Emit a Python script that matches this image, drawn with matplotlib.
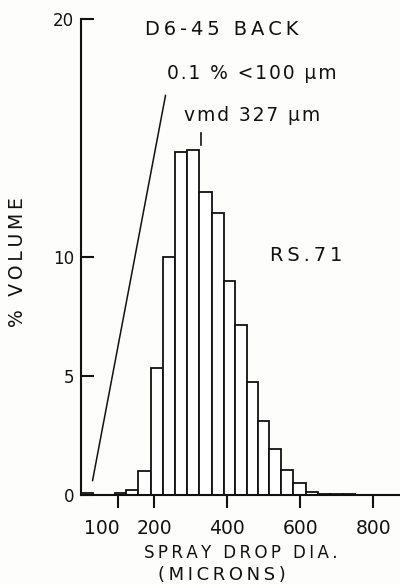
import matplotlib
matplotlib.use("Agg")
import matplotlib.pyplot as plt
from matplotlib.transforms import ScaledTranslation

# Drop-size distribution, D6-45 back nozzle
bin_edges = [92, 124, 156, 191, 223, 256, 289, 323, 358, 390, 422, 453,
             483, 515, 547, 581, 616, 648, 682, 716, 750]
pct_volume = [0.1, 0.2, 1.0, 5.35, 10.0, 14.4, 14.5, 12.75, 11.85, 9.0,
              7.15, 4.75, 3.1, 1.95, 1.05, 0.5, 0.12, 0.06, 0.05, 0.04]

# fraction below 100 um, drawn against the axis
fine_edges = [0, 33]
fine_pct = [0.1]

vmd = 327
x_ticks = [100, 200, 400, 600, 800]
y_ticks = [0, 5, 10, 20]

INK = "#111111"
BG = "#fdfdfb"
THIN = "\u2009"  # thin space used for letter tracking
HAIR = "\u200a"  # hair space, lighter tracking


def track(s, gap=THIN):
    return gap.join(s)


plt.rcParams["font.family"] = ["DejaVu Sans"]

fig = plt.figure(figsize=(4.0, 5.85), dpi=100, facecolor=BG)
ax = fig.add_axes([0.203, 0.1538, 0.797, 0.8137], facecolor=BG)

lefts = bin_edges[:-1]
widths = [b - a for a, b in zip(bin_edges[:-1], bin_edges[1:])]
ax.bar(lefts, pct_volume, width=widths, align="edge", facecolor="white",
       edgecolor=INK, linewidth=1.3, zorder=2)
ax.bar(fine_edges[0], fine_pct, width=fine_edges[1] - fine_edges[0],
       align="edge", facecolor="white", edgecolor=INK, linewidth=1.3, zorder=2)

ax.set_xlim(0, 873)
ax.set_ylim(0, 20)

for side in ("top", "right"):
    ax.spines[side].set_visible(False)
for side in ("left", "bottom"):
    ax.spines[side].set_linewidth(1.5)
    ax.spines[side].set_color(INK)
    ax.spines[side].set_zorder(3)

ax.set_xticks(x_ticks)
ax.set_xticklabels([str(v) for v in x_ticks])
ax.set_yticks(y_ticks)
ax.set_yticklabels([str(v) for v in y_ticks])
ax.tick_params(axis="x", direction="out", length=9.5, width=1.5, pad=8,
               labelsize=13.5, colors=INK)
ax.tick_params(axis="y", direction="in", length=9.5, width=1.5, pad=5,
               labelsize=12, colors=INK)

# nudge the "100" label left so it clears "200"
lbl = ax.get_xticklabels()[0]
lbl.set_transform(lbl.get_transform() +
                  ScaledTranslation(-0.16, 0, fig.dpi_scale_trans))

# volume median diameter marker
ax.plot([vmd, vmd], [14.7, 15.2], color=INK, lw=1.2)

# leader from the fine fraction
ax.annotate("", xy=(31, 0.6), xytext=(231, 16.8),
            arrowprops=dict(arrowstyle="-", lw=1.1, color=INK,
                            shrinkA=0, shrinkB=0))

fig.text(0.555, 0.949, track("D6-45 BACK"), ha="center", va="center",
         fontsize=14, color=INK)
fig.text(0.63, 0.875, track("0.1 % <100 \u00b5m", HAIR), ha="center",
         va="center", fontsize=13.5, color=INK)
fig.text(0.63, 0.803, track("vmd 327 \u00b5m", HAIR), ha="center",
         va="center", fontsize=13.5, color=INK)
fig.text(0.765, 0.5624, track("RS.71"), ha="center", va="center",
         fontsize=14, color=INK)
fig.text(0.045, 0.552, track("% VOLUME"), ha="center", va="center",
         rotation=90, fontsize=13.5, color=INK)
fig.text(0.6025, 0.0547, track("SPRAY DROP DIA."), ha="center", va="center",
         fontsize=12, color=INK)
fig.text(0.555, 0.017, track("(MICRONS)"), ha="center", va="center",
         fontsize=13, color=INK)

fig.savefig("out.png", dpi=100, facecolor=BG)
